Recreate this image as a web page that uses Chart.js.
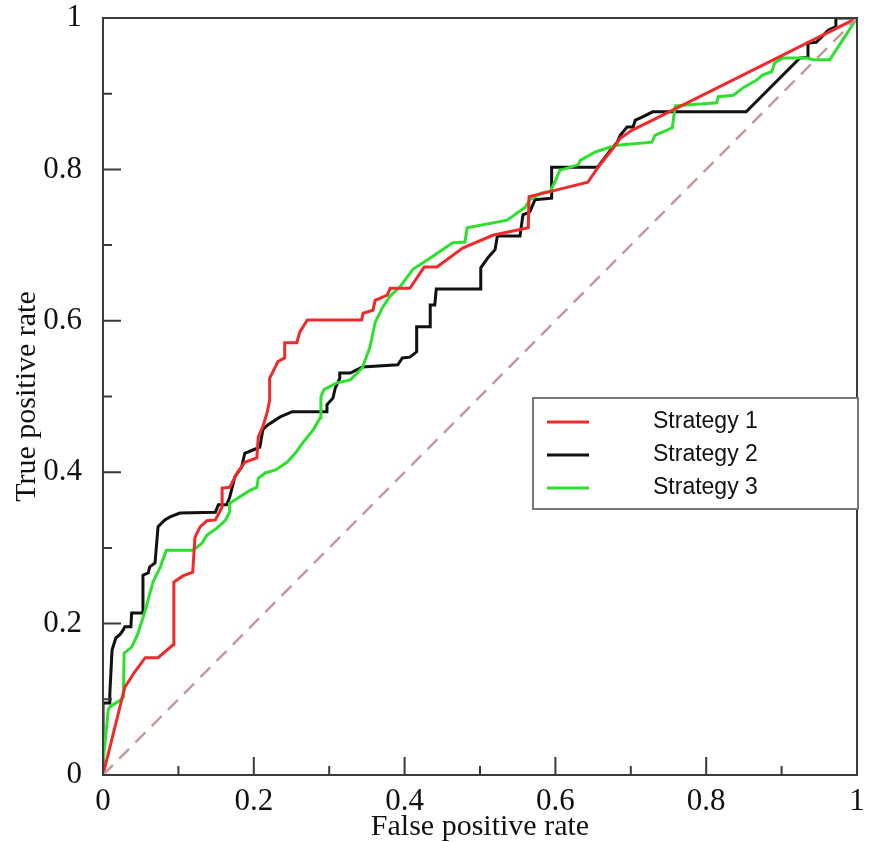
<!DOCTYPE html>
<html>
<head>
<meta charset="utf-8">
<title>ROC curves</title>
<script src="https://cdn.jsdelivr.net/npm/chart.js@4.4.1/dist/chart.umd.min.js"></script>
<style>
    body { margin: 0; background: #ffffff; }
    canvas { display: block; }
</style>
</head>
<body>
<canvas id="chart_roc" width="873" height="842"></canvas>
<script>
    // Strategy 1 (red)
    const fpr_1 = [0, 0.029, 0.042, 0.056, 0.073, 0.093, 0.094, 0.106, 0.119, 0.122, 0.129, 0.138, 0.149, 0.158, 0.158, 0.168, 0.178, 0.188, 0.204, 0.206, 0.212, 0.218, 0.221, 0.221, 0.232, 0.241, 0.241, 0.257, 0.261, 0.271, 0.343, 0.345, 0.358, 0.361, 0.377, 0.381, 0.407, 0.426, 0.443, 0.477, 0.517, 0.564, 0.565, 0.602, 0.643, 0.656, 0.675, 0.686, 0.702, 0.729, 1];
    const tpr_1 = [0, 0.116, 0.136, 0.155, 0.155, 0.172, 0.255, 0.263, 0.268, 0.314, 0.328, 0.336, 0.337, 0.354, 0.379, 0.380, 0.399, 0.413, 0.419, 0.447, 0.460, 0.480, 0.495, 0.524, 0.546, 0.551, 0.571, 0.571, 0.585, 0.601, 0.601, 0.610, 0.614, 0.627, 0.634, 0.643, 0.643, 0.671, 0.671, 0.696, 0.713, 0.723, 0.764, 0.773, 0.783, 0.802, 0.826, 0.841, 0.852, 0.865, 1];

    // Strategy 2 (black)
    const fpr_2 = [0, 0, 0.009, 0.009, 0.012, 0.017, 0.023, 0.027, 0.029, 0.037, 0.038, 0.053, 0.053, 0.060, 0.062, 0.069, 0.073, 0.082, 0.089, 0.102, 0.149, 0.153, 0.164, 0.168, 0.175, 0.184, 0.188, 0.198, 0.208, 0.212, 0.218, 0.235, 0.251, 0.297, 0.297, 0.305, 0.308, 0.314, 0.314, 0.328, 0.344, 0.391, 0.397, 0.407, 0.416, 0.416, 0.434, 0.434, 0.440, 0.442, 0.501, 0.501, 0.511, 0.520, 0.523, 0.553, 0.557, 0.566, 0.573, 0.595, 0.595, 0.656, 0.675, 0.682, 0.686, 0.695, 0.703, 0.706, 0.715, 0.729, 0.853, 0.924, 0.935, 0.935, 0.946, 0.962, 0.971, 0.972, 1];
    const tpr_2 = [0, 0.095, 0.095, 0.106, 0.165, 0.181, 0.186, 0.192, 0.196, 0.196, 0.214, 0.214, 0.264, 0.267, 0.275, 0.280, 0.328, 0.337, 0.341, 0.346, 0.347, 0.357, 0.357, 0.367, 0.394, 0.407, 0.425, 0.429, 0.433, 0.456, 0.462, 0.473, 0.480, 0.480, 0.489, 0.498, 0.511, 0.524, 0.531, 0.531, 0.539, 0.542, 0.551, 0.552, 0.559, 0.592, 0.592, 0.621, 0.621, 0.642, 0.642, 0.670, 0.684, 0.694, 0.712, 0.712, 0.740, 0.744, 0.760, 0.762, 0.803, 0.803, 0.828, 0.836, 0.845, 0.856, 0.856, 0.865, 0.869, 0.876, 0.876, 0.947, 0.948, 0.967, 0.968, 0.984, 0.988, 1, 1];

    // Strategy 3 (green)
    const fpr_3 = [0, 0, 0.007, 0.009, 0.023, 0.027, 0.028, 0.038, 0.046, 0.056, 0.066, 0.076, 0.084, 0.119, 0.131, 0.138, 0.151, 0.162, 0.168, 0.168, 0.179, 0.195, 0.204, 0.206, 0.215, 0.229, 0.244, 0.255, 0.265, 0.279, 0.288, 0.289, 0.293, 0.310, 0.328, 0.344, 0.354, 0.361, 0.371, 0.381, 0.394, 0.411, 0.434, 0.464, 0.480, 0.483, 0.536, 0.560, 0.566, 0.582, 0.593, 0.599, 0.606, 0.617, 0.630, 0.633, 0.653, 0.668, 0.682, 0.728, 0.732, 0.755, 0.759, 0.814, 0.816, 0.836, 0.849, 0.867, 0.875, 0.887, 0.891, 0.901, 0.934, 0.942, 0.964, 1];
    const tpr_3 = [0, 0.016, 0.086, 0.090, 0.099, 0.103, 0.161, 0.169, 0.186, 0.217, 0.254, 0.275, 0.297, 0.297, 0.306, 0.317, 0.326, 0.336, 0.347, 0.359, 0.366, 0.376, 0.380, 0.392, 0.399, 0.403, 0.413, 0.425, 0.439, 0.456, 0.472, 0.499, 0.509, 0.518, 0.522, 0.538, 0.565, 0.598, 0.618, 0.633, 0.645, 0.668, 0.683, 0.703, 0.704, 0.723, 0.733, 0.750, 0.760, 0.769, 0.771, 0.783, 0.799, 0.802, 0.806, 0.812, 0.823, 0.828, 0.832, 0.836, 0.845, 0.855, 0.884, 0.888, 0.896, 0.898, 0.908, 0.918, 0.925, 0.929, 0.941, 0.947, 0.947, 0.945, 0.945, 1];

    // chance diagonal
    const fpr_chance = [0, 1];
    const tpr_chance = [0, 1];

    const series_labels = ["Strategy 1", "Strategy 2", "Strategy 3"];
    const series_colors = ["#f02a2a", "#111111", "#2ee02e"];
    const x_tick_labels = ["0", "0.2", "0.4", "0.6", "0.8", "1"];
    const y_tick_labels = ["0", "0.2", "0.4", "0.6", "0.8", "1"];
    const minor_ticks = [0.1, 0.3, 0.5, 0.7, 0.9];
    const x_title = "False positive rate";
    const y_title = "True positive rate";

    function toPoints(xs, ys) {
        return xs.map((x, i) => ({x: x, y: ys[i]}));
    }

    const serif = "'Liberation Serif', 'DejaVu Serif', serif";

    // box round the plot, inward ticks and the legend box
    const frame_plugin = {
        id: 'frame_plugin',
        afterDatasetsDraw(chart) {
            const ctx = chart.ctx;
            const a = chart.chartArea;
            const xs = chart.scales.x;
            const ys = chart.scales.y;
            ctx.save();
            ctx.strokeStyle = '#3a3a3a';
            ctx.lineWidth = 2;
            ctx.beginPath();
            ys.ticks.forEach(t => {
                const py = ys.getPixelForValue(t.value);
                ctx.moveTo(a.left, py);
                ctx.lineTo(a.left + 18, py);
            });
            xs.ticks.forEach(t => {
                const px = xs.getPixelForValue(t.value);
                ctx.moveTo(px, a.bottom);
                ctx.lineTo(px, a.bottom - 18);
            });
            minor_ticks.forEach(v => {
                const py = ys.getPixelForValue(v);
                ctx.moveTo(a.left, py);
                ctx.lineTo(a.left + 9, py);
                const px = xs.getPixelForValue(v);
                ctx.moveTo(px, a.bottom);
                ctx.lineTo(px, a.bottom - 9);
            });
            ctx.stroke();
            ctx.strokeRect(a.left, a.top, a.right - a.left, a.bottom - a.top);

            // legend
            const lx = 533, ly = 398, lw = 325, lh = 111;
            ctx.fillStyle = '#ffffff';
            ctx.fillRect(lx, ly, lw, lh);
            ctx.strokeStyle = '#777777';
            ctx.lineWidth = 2;
            ctx.strokeRect(lx, ly, lw, lh);
            ctx.font = "23px 'Liberation Sans', Arial, sans-serif";
            ctx.textBaseline = 'middle';
            ctx.textAlign = 'left';
            series_labels.forEach((label, i) => {
                const cy = ly + 24 + i * 33;
                ctx.strokeStyle = series_colors[i];
                ctx.lineWidth = 3;
                ctx.beginPath();
                ctx.moveTo(lx + 14, cy);
                ctx.lineTo(lx + 56, cy);
                ctx.stroke();
                ctx.fillStyle = '#111111';
                ctx.fillText(label, lx + 120, cy);
            });
            ctx.restore();
        }
    };

    const ctxR = document.getElementById('chart_roc');

    new Chart(ctxR, {
        type: 'scatter',
        data: {
            datasets: [
                {
                    label: 'chance',
                    data: toPoints(fpr_chance, tpr_chance),
                    showLine: true,
                    borderColor: '#c49a9a',
                    borderWidth: 2.5,
                    borderDash: [14, 9],
                    pointRadius: 0
                },
                {
                    label: series_labels[0],
                    data: toPoints(fpr_1, tpr_1),
                    showLine: true,
                    borderColor: series_colors[0],
                    borderWidth: 3,
                    pointRadius: 0
                },
                {
                    label: series_labels[2],
                    data: toPoints(fpr_3, tpr_3),
                    showLine: true,
                    borderColor: series_colors[2],
                    borderWidth: 3,
                    pointRadius: 0
                },
                {
                    label: series_labels[1],
                    data: toPoints(fpr_2, tpr_2),
                    showLine: true,
                    borderColor: series_colors[1],
                    borderWidth: 3,
                    pointRadius: 0
                }
            ]
        },
        options: {
            responsive: false,
            animation: false,
            devicePixelRatio: 1,
            layout: {
                padding: {top: 18, right: 16, left: 0, bottom: 0}
            },
            plugins: {
                legend: {display: false},
                tooltip: {enabled: false}
            },
            scales: {
                x: {
                    type: 'linear',
                    min: 0,
                    max: 1,
                    afterFit: (scale) => {
                        scale.height = 67;
                        scale.paddingLeft = 0;
                        scale.paddingRight = 0;
                    },
                    grid: {display: false, drawTicks: false},
                    border: {display: false},
                    ticks: {
                        stepSize: 0.2,
                        padding: 8,
                        color: '#111111',
                        font: {family: serif, size: 31},
                        callback: (value, index) => x_tick_labels[index]
                    },
                    title: {
                        display: true,
                        text: x_title,
                        color: '#111111',
                        font: {family: serif, size: 30, lineHeight: 1},
                        padding: {top: 0, bottom: 0}
                    }
                },
                y: {
                    type: 'linear',
                    min: 0,
                    max: 1,
                    afterFit: (scale) => {
                        scale.width = 103;
                        scale.paddingTop = 0;
                        scale.paddingBottom = 0;
                    },
                    grid: {display: false, drawTicks: false},
                    border: {display: false},
                    ticks: {
                        stepSize: 0.2,
                        padding: 21,
                        color: '#111111',
                        font: {family: serif, size: 31},
                        callback: (value, index) => y_tick_labels[index]
                    },
                    title: {
                        display: true,
                        text: y_title,
                        color: '#111111',
                        font: {family: serif, size: 30, lineHeight: 1},
                        padding: {top: 12, bottom: 0}
                    }
                }
            }
        },
        plugins: [frame_plugin]
    });
</script>
</body>
</html>
